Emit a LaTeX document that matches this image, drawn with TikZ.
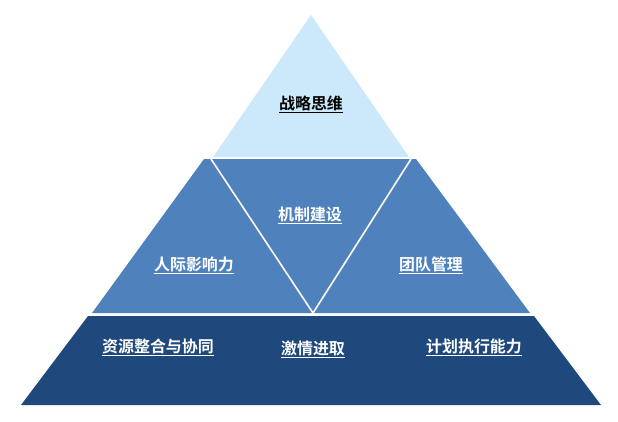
\documentclass[tikz,border=0pt]{standalone}
\usepackage{fontspec}
\newfontfamily\cjk{Noto Sans CJK SC Bold}
\usepackage{tikz}

\definecolor{toplight}{RGB}{204,233,252}
\definecolor{midblue}{RGB}{79,129,189}
\definecolor{darkblue}{RGB}{31,73,125}

\begin{document}
\begin{tikzpicture}[x=1bp, y=-1bp,
  layertext/.style={font=\cjk\fontsize{16}{19}\selectfont, inner sep=1pt, white}]
  \useasboundingbox (0,0) rectangle (618,421);
  % three layers of the pyramid
  \fill[toplight] (311,15) -- (409,157) -- (213,157) -- cycle;
  \fill[midblue] (204,159) -- (416,159) -- (530,313) -- (92,313) -- cycle;
  \fill[darkblue] (88,316) -- (534,316) -- (601,405) -- (21,405) -- cycle;
  % inverted triangle in the middle layer
  \draw[white, line width=1.6bp, line join=miter] (211,159) -- (313,313) -- (411,159);
  % labels
  \node[layertext, black] (strategy) at (311,104) {\underline{战略思维}};
  \node[layertext] (mechanism) at (310,215) {\underline{机制建设}};
  \node[layertext] (influence) at (194,265) {\underline{人际影响力}};
  \node[layertext] (team) at (431,265) {\underline{团队管理}};
  \node[layertext] (resource) at (158,347) {\underline{资源整合与协同}};
  \node[layertext] (passion) at (313,349) {\underline{激情进取}};
  \node[layertext] (execution) at (474,347) {\underline{计划执行能力}};
\end{tikzpicture}
\end{document}
